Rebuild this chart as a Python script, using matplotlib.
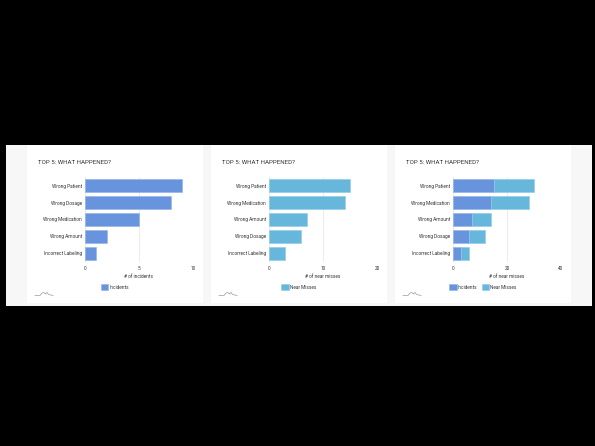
import matplotlib
matplotlib.use("Agg")
import matplotlib.pyplot as plt
from matplotlib.patches import Rectangle
from matplotlib.lines import Line2D

plt.rcParams['font.family'] = ['Roboto', 'DejaVu Sans']

# data
title = "TOP 5: WHAT HAPPENED?"
cats_incidents = ["Wrong Patient", "Wrong Dosage", "Wrong Medication", "Wrong Amount", "Incorrect Labeling"]
incidents = [9, 8, 5, 2, 1]
cats_near = ["Wrong Patient", "Wrong Medication", "Wrong Amount", "Wrong Dosage", "Incorrect Labeling"]
near_misses = [15, 14, 7, 6, 3]
cats_combined = ["Wrong Patient", "Wrong Medication", "Wrong Amount", "Wrong Dosage", "Incorrect Labeling"]
combined_incidents = [15, 14, 7, 6, 3]
combined_near = [15, 14, 7, 6, 3]

BLUE = "#6794dc"
SKY = "#67b7dc"
TXT = "#333333"

W, H = 595, 446
fig = plt.figure(figsize=(W / 100, H / 100), dpi=100)
fig.patch.set_facecolor("black")


def px_rect(x0, y0, x1, y1, color):
    fig.patches.append(Rectangle((x0 / W, 1 - y1 / H), (x1 - x0) / W, (y1 - y0) / H,
                                 transform=fig.transFigure, facecolor=color,
                                 edgecolor="none", zorder=-10))


# page strip and cards
px_rect(6, 145, 592, 306, "#f7f7f7")
card_lefts = [27, 211, 395]
for cl in card_lefts:
    px_rect(cl, 145, cl + 176, 303, "white")


def logo(x0, y0):
    xs = [x0, x0 + 5, x0 + 7, x0 + 9, x0 + 10.5, x0 + 12, x0 + 13.5, x0 + 18]
    ys = [y0, y0, y0 - 2.5, y0 - 3, y0 - 1.5, y0 - 3, y0 - 1, y0]
    fig.add_artist(Line2D([x / W for x in xs], [1 - y / H for y in ys],
                          transform=fig.transFigure, color="#999999", lw=0.5))


def panel(cl, cats, series, colors, labels, xmax, xticks, xlabel):
    fig.text((cl + 11) / W, 1 - 162 / H, title, fontsize=4.4, color=TXT,
             va="center", ha="left")
    left = cl + 58
    ax = fig.add_axes([left / W, 1 - 261.8 / H, 108 / W, 84.6 / H])
    ax.set_zorder(1)
    ax.set_facecolor("none")
    y = list(range(len(cats)))
    base = [0] * len(cats)
    for vals, col, lab in zip(series, colors, labels):
        ax.barh(y, vals, left=base, height=0.79, color=col,
                edgecolor="#8fb0e6" if col == BLUE else "#8fcbe6",
                linewidth=0.4, label=lab, zorder=2)
        base = [b + v for b, v in zip(base, vals)]
    ax.set_ylim(4.5, -0.5)
    ax.set_xlim(0, xmax)
    ax.set_xticks(xticks)
    ax.set_yticks(y)
    ax.set_yticklabels(cats)
    ax.tick_params(length=0, labelsize=3.4, colors=TXT)
    ax.tick_params(axis="y", pad=2.2)
    ax.tick_params(axis="x", pad=2.8)
    ax.grid(axis="x", color="#e8e8e8", lw=0.6, zorder=0)
    for s in ax.spines.values():
        s.set_visible(False)
    fig.text((left + 54) / W, 1 - 276.7 / H, xlabel, fontsize=3.4, color=TXT,
             ha="center", va="center")
    h, l = ax.get_legend_handles_labels()
    fig.legend(h, l, loc="center", bbox_to_anchor=((cl + 88) / W, 1 - 287 / H),
               ncol=2, frameon=False, fontsize=3.4, handlelength=1.6,
               handleheight=1.6, handletextpad=0.3, columnspacing=0.8,
               labelcolor=TXT, borderpad=0)
    logo(cl + 8, 295.5)


panel(27, cats_incidents, [incidents], [BLUE], ["Incidents"], 10, [0, 5, 10], "# of incidents")
panel(211, cats_near, [near_misses], [SKY], ["Near Misses"], 20, [0, 10, 20], "# of near misses")
panel(395, cats_combined, [combined_incidents, combined_near], [BLUE, SKY],
      ["Incidents", "Near Misses"], 40, [0, 20, 40], "# of near misses")

fig.savefig("out.png", dpi=100, facecolor=fig.get_facecolor())
